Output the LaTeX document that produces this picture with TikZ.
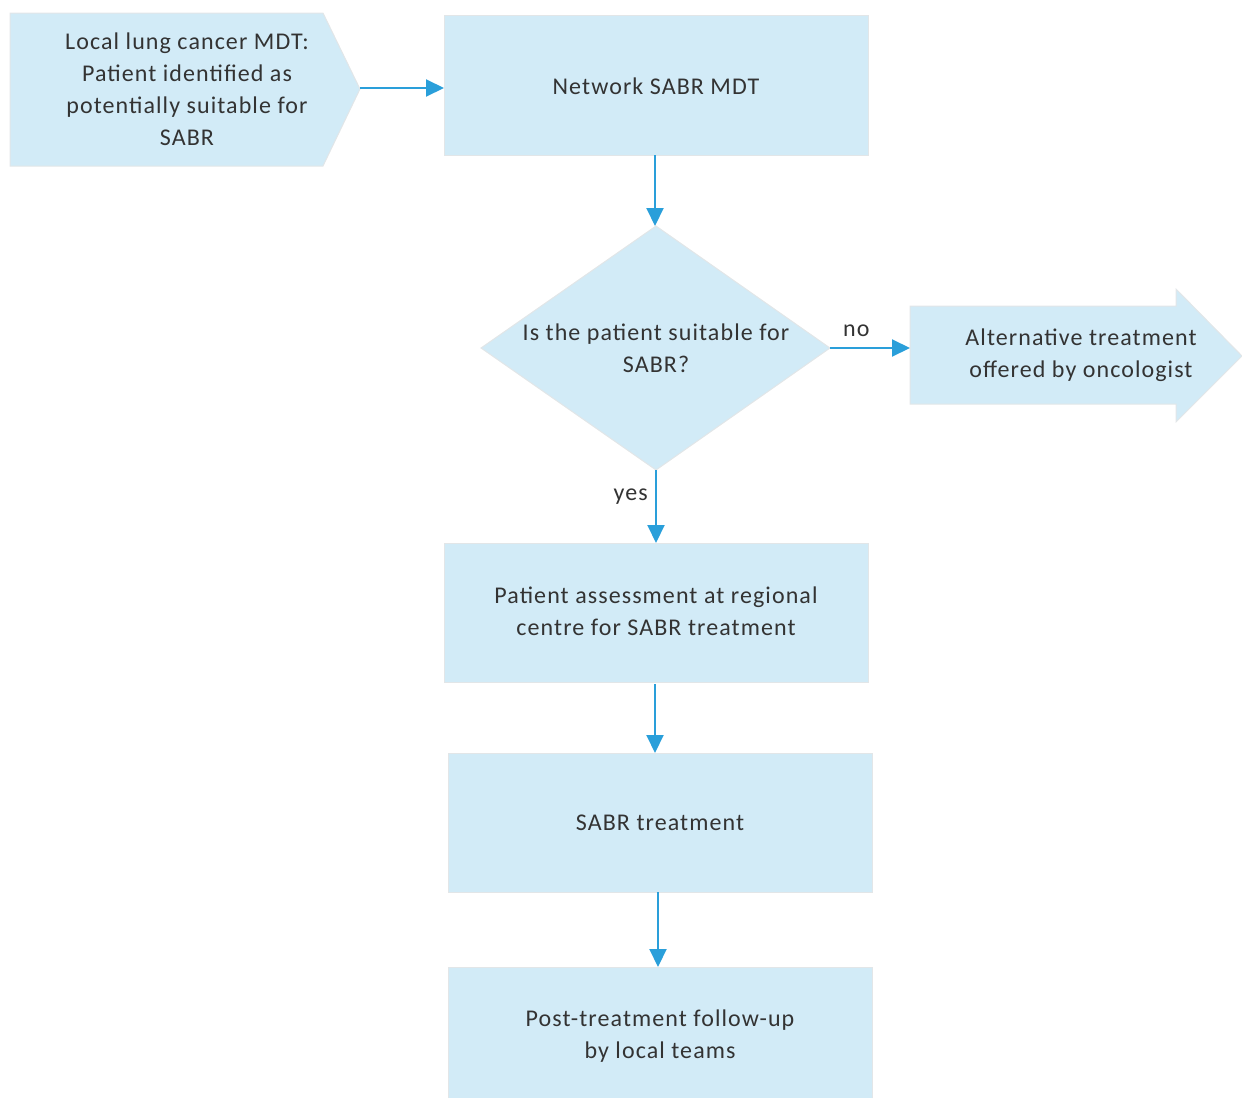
\documentclass[tikz,border=0pt]{standalone}
\usepackage{fontspec}
\setmainfont{Carlito}[LetterSpace=4.5]
\usetikzlibrary{arrows.meta,shapes.geometric}
\definecolor{boxfill}{HTML}{D2EBF7}
\definecolor{boxedge}{HTML}{E2E6E8}
\definecolor{arrowc}{HTML}{2A9FDA}
\definecolor{txt}{HTML}{333333}
\tikzset{
  x=1pt,y=-1pt,
  shapestyle/.style={fill=boxfill,draw=boxedge,line width=1pt},
  lbl/.style={text=txt,font=\fontsize{24}{32}\selectfont,align=center},
  conn/.style={draw=arrowc,line width=2pt,-{Triangle[length=18pt,width=17pt]}},
  edgelbl/.style={text=txt,font=\fontsize{24}{26}\selectfont}
}
\begin{document}
\begin{tikzpicture}
\useasboundingbox (0,0) rectangle (1242,1098);
% chevron
\draw[shapestyle] (10,13) -- (323,13) -- (360,89) -- (323,166) -- (10,166) -- cycle;
\node[lbl] (local) at (187,89) {Local lung cancer MDT:\\Patient identified as\\potentially suitable for\\SABR};
\coordinate (localtip) at (360,88);
% box 1
\draw[shapestyle] (444,15) rectangle (868,155);
\node[lbl] (net) at (656,86) {Network SABR MDT};
\coordinate (netL) at (444,88);
\coordinate (netB) at (655,155);
% diamond
\draw[shapestyle] (656,226) -- (830,348) -- (656,470) -- (481,348) -- cycle;
\node[lbl] (q) at (656,348) {Is the patient suitable for\\SABR?};
\coordinate (qT) at (655,226);
\coordinate (qR) at (830,348);
\coordinate (qB) at (656,470);
% right arrow
\draw[shapestyle] (910,306) -- (1176,306) -- (1176,289) -- (1242,356) -- (1176,422) -- (1176,404) -- (910,404) -- cycle;
\node[lbl] (alt) at (1081,355) {Alternative treatment\\offered by oncologist};
\coordinate (altL) at (910,348);
% box 3
\draw[shapestyle] (444,543) rectangle (868,682);
\node[lbl] (assess) at (656,611) {Patient assessment at regional\\centre for SABR treatment};
\coordinate (assT) at (656,543);
\coordinate (assB) at (655,684);
% box 4
\draw[shapestyle] (448,753) rectangle (872,892);
\node[lbl] (treat) at (660,823) {SABR treatment};
\coordinate (trT) at (655,753);
\coordinate (trB) at (658,892);
% box 5
\draw[shapestyle] (448,967) -- (448,1098) (872,1098) -- (872,967) -- (448,967);
\fill[boxfill] (448.5,967.5) rectangle (871.5,1098);
\node[lbl] (post) at (660,1036) {Post-treatment follow-up\\by local teams};
\coordinate (postT) at (658,967);
% connectors
\draw[conn] (localtip) -- (netL);
\draw[conn] (netB) -- (qT);
\draw[conn] (qR) -- node[edgelbl,above=7pt,pos=0.33] {no} (altL);
\draw[conn] (qB) -- node[edgelbl,left=4pt,pos=0.36] {yes} (assT);
\draw[conn] (assB) -- (trT);
\draw[conn] (trB) -- (postT);
\end{tikzpicture}
\end{document}
